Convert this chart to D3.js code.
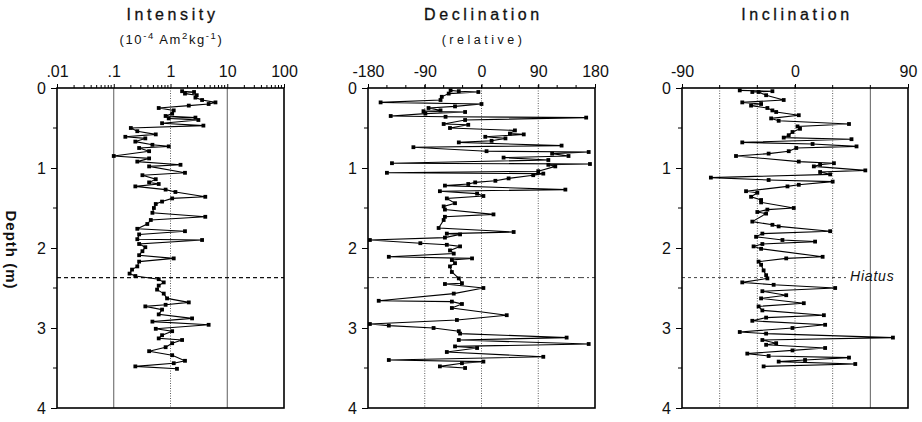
<!DOCTYPE html>
<html>
<head>
<meta charset="utf-8">
<script src="https://cdn.jsdelivr.net/npm/d3@7"></script>
<style>
  body { margin: 0; background: #fff; }
  text { font-family: "Liberation Sans", Arial, sans-serif; fill: #111; }
</style>
</head>
<body>
<div id="vis"></div>
<script>
var intensityDepth = [0.04,0.05,0.07,0.09,0.12,0.15,0.18,0.20,0.22,0.25,0.28,0.32,0.35,0.37,0.38,0.40,0.44,0.47,0.50,0.54,0.58,0.61,0.63,0.67,0.71,0.73,0.75,0.79,0.85,0.88,0.92,0.96,0.98,1.06,1.09,1.14,1.18,1.20,1.23,1.27,1.30,1.36,1.38,1.42,1.45,1.50,1.56,1.61,1.65,1.70,1.76,1.79,1.83,1.89,1.90,1.95,1.99,2.04,2.09,2.13,2.17,2.23,2.27,2.32,2.35,2.39,2.43,2.47,2.52,2.57,2.63,2.68,2.71,2.73,2.77,2.83,2.88,2.92,2.96,3.01,3.04,3.09,3.13,3.15,3.19,3.24,3.29,3.34,3.41,3.44,3.48,3.51];
var intensityValue = [1.6,2.6,1.8,2.9,2.75,3.6,6.2,4.7,2.1,0.62,1.14,1.07,0.82,2.75,0.93,3.1,0.71,3.8,0.20,0.26,0.55,0.16,0.36,0.24,0.48,0.93,0.28,0.42,0.10,0.42,0.26,1.5,0.42,1.8,0.32,0.55,0.42,0.62,0.24,0.82,1.22,4.1,1.07,0.71,0.55,0.51,0.48,4.1,0.45,0.39,0.26,1.8,0.28,0.26,3.6,0.28,0.36,0.32,0.28,1.14,0.28,0.26,0.21,0.19,0.24,0.62,0.76,0.62,0.58,0.76,0.87,2.1,0.82,0.36,0.71,0.62,2.4,0.48,4.7,0.55,1.07,0.71,0.62,1.6,1.07,0.82,0.42,1.07,1.8,1.14,0.24,1.3];

var declinationDepth = [0.03,0.04,0.05,0.07,0.11,0.15,0.18,0.20,0.23,0.25,0.28,0.29,0.30,0.32,0.35,0.36,0.37,0.40,0.45,0.46,0.50,0.53,0.57,0.58,0.61,0.63,0.66,0.68,0.72,0.74,0.79,0.80,0.82,0.85,0.87,0.90,0.94,0.95,0.96,0.98,1.04,1.06,1.07,1.09,1.13,1.16,1.18,1.20,1.22,1.27,1.29,1.32,1.35,1.38,1.44,1.48,1.52,1.58,1.61,1.65,1.75,1.80,1.82,1.83,1.87,1.90,1.94,1.96,1.98,2.03,2.07,2.11,2.13,2.15,2.19,2.23,2.30,2.38,2.44,2.45,2.50,2.57,2.66,2.67,2.70,2.75,2.84,2.90,2.95,2.97,3.00,3.04,3.07,3.12,3.15,3.20,3.23,3.25,3.30,3.36,3.40,3.42,3.44,3.48,3.50];
var declinationValue = [-49,-36,-5,-52,-63,-65,-160,0,-42,-84,-65,-92,-26,-89,-144,-57,166,-26,-60,-21,-50,53,45,67,6,38,16,-36,127,-108,8,170,112,138,35,106,-142,172,106,117,90,-150,98,82,43,22,-10,-21,-58,133,-66,-7,3,-55,-42,-60,-58,19,-58,-60,-68,51,-55,-34,-58,-177,-97,-55,-34,-50,-44,-147,-15,-47,-42,-50,-47,-36,-31,-58,3,-44,-163,-47,-31,-47,40,-39,-177,-147,-76,-36,-34,135,-36,170,-42,-7,-55,98,-147,3,-31,-66,-26];

var inclinationDepth = [0.03,0.04,0.05,0.05,0.09,0.15,0.18,0.20,0.22,0.25,0.28,0.30,0.34,0.38,0.41,0.45,0.48,0.51,0.55,0.59,0.62,0.64,0.68,0.70,0.73,0.75,0.79,0.82,0.85,0.92,0.94,0.96,0.98,1.03,1.05,1.08,1.12,1.15,1.17,1.21,1.23,1.29,1.31,1.36,1.40,1.43,1.50,1.52,1.55,1.57,1.67,1.71,1.73,1.79,1.82,1.86,1.90,1.92,1.95,1.98,2.01,2.11,2.13,2.17,2.21,2.28,2.34,2.38,2.43,2.46,2.50,2.54,2.59,2.63,2.69,2.73,2.78,2.84,2.87,2.91,2.96,3.00,3.05,3.07,3.12,3.15,3.19,3.21,3.25,3.28,3.32,3.35,3.37,3.40,3.42,3.45,3.48];
var inclinationValue = [-44,-18,-34,-29,-23,-9,-42,-27,-35,-22,-18,-15,3,-19,-13,43,2,4,-2,-5,-9,45,-42,14,49,1,-5,-21,-47,3,31,20,15,56,20,28,-67,-21,30,3,-6,-39,-30,-35,-27,-27,-1,-22,-30,-23,-34,-18,-13,28,-26,-31,-10,16,-26,-33,-27,22,-7,-29,-27,-25,-23,-22,-42,-17,32,-26,-7,-27,7,-29,-26,23,-23,-34,24,-2,-44,-23,78,-26,-15,-23,24,-2,-38,-21,43,8,-13,48,-25];

var depthTicks = [0, 1, 2, 3, 4];
var hiatusDepth = 2.37;

var svg = d3.select('#vis').append('svg')
    .attr('width', 922)
    .attr('height', 422);

var plotTop = 88, plotBottom = 408;
var yScale = d3.scaleLinear().domain([0, 4]).range([plotTop, plotBottom]);

var panels = [
    {
        title: 'Intensity', sub: 'intensity', left: 57, right: 284,
        scale: d3.scaleLog().domain([0.01, 100]),
        depth: intensityDepth, value: intensityValue,
        labels: [0.01, 0.1, 1, 10, 100],
        labelText: ['.01', '.1', '1', '10', '100'],
        minor: d3.range(-2, 2).flatMap(function(e) { return d3.range(2, 10).map(function(m) { return m * Math.pow(10, e); }); }),
        grid: [0.1, 1, 10], solid: [0.1, 10],
        hiatusEnd: 284, hiatusDash: '4,3'
    },
    {
        title: 'Declination', sub: 'relative', left: 368, right: 595,
        scale: d3.scaleLinear().domain([-180, 180]),
        depth: declinationDepth, value: declinationValue,
        labels: [-180, -90, 0, 90, 180],
        labelText: ['-180', '-90', '0', '90', '180'],
        minor: d3.range(-150, 180, 30),
        grid: [-90, 0, 90], solid: [],
        hiatusEnd: 595, hiatusDash: '6,3,2,3'
    },
    {
        title: 'Inclination', sub: null, left: 682, right: 908,
        scale: d3.scaleLinear().domain([-90, 90]),
        depth: inclinationDepth, value: inclinationValue,
        labels: [-90, 0, 90],
        labelText: ['-90', '0', '90'],
        minor: d3.range(-60, 90, 30),
        grid: [-60, -30, 0, 30, 60], solid: [60],
        hiatusEnd: 846, hiatusDash: '3,3'
    }
];

panels.forEach(function(p) {
    var x = p.scale.range([p.left, p.right]);
    var cx = (p.left + p.right) / 2;
    var g = svg.append('g');

    // titles
    g.append('text')
        .attr('x', cx + 2).attr('y', 20)
        .attr('text-anchor', 'middle')
        .style('font-size', '16px')
        .style('letter-spacing', '3.6px')
        .style('stroke', '#111')
        .style('stroke-width', 0.3)
        .text(p.title);

    if (p.sub === 'intensity') {
        var st = g.append('text')
            .attr('x', cx + 1).attr('y', 44)
            .attr('text-anchor', 'middle')
            .style('font-size', '13px')
            .style('letter-spacing', '1.6px');
        st.append('tspan').text('(10');
        st.append('tspan').attr('dy', -5).style('font-size', '9.5px').text('-4');
        st.append('tspan').attr('dy', 5).text('  Am');
        st.append('tspan').attr('dy', -5).style('font-size', '9.5px').text('2');
        st.append('tspan').attr('dy', 5).text('kg');
        st.append('tspan').attr('dy', -5).style('font-size', '9.5px').text('-1');
        st.append('tspan').attr('dy', 5).text(')');
    } else if (p.sub) {
        g.append('text')
            .attr('x', cx + 2).attr('y', 44)
            .attr('text-anchor', 'middle')
            .style('font-size', '12.5px')
            .style('letter-spacing', '3.5px')
            .text('(' + p.sub + ')');
    }

    // grid lines
    g.selectAll('.grid').data(p.grid).enter().append('line')
        .attr('x1', function(d) { return x(d); })
        .attr('x2', function(d) { return x(d); })
        .attr('y1', plotTop).attr('y2', plotBottom)
        .attr('stroke', '#333')
        .attr('stroke-width', 0.8)
        .attr('stroke-dasharray', function(d) { return p.solid.indexOf(d) >= 0 ? null : '1,1.5'; });

    // hiatus
    g.append('line')
        .attr('x1', p.left).attr('x2', p.hiatusEnd)
        .attr('y1', yScale(hiatusDepth)).attr('y2', yScale(hiatusDepth))
        .attr('stroke', '#111')
        .attr('stroke-width', p.sub === 'intensity' ? 1.1 : 0.8)
        .attr('stroke-dasharray', p.hiatusDash);

    // frame
    g.append('rect')
        .attr('x', p.left).attr('y', plotTop)
        .attr('width', p.right - p.left).attr('height', plotBottom - plotTop)
        .attr('fill', 'none')
        .attr('stroke', '#000')
        .attr('stroke-width', 1.6);

    // top axis
    var xAxis = d3.axisTop(x)
        .tickValues(p.labels)
        .tickFormat(function(d, i) { return p.labelText[i]; })
        .tickSize(4)
        .tickPadding(7);
    var ax = g.append('g').attr('transform', 'translate(0,' + plotTop + ')').call(xAxis);
    ax.select('.domain').remove();
    ax.selectAll('text').style('font-size', '16px').attr('font-family', null);
    g.selectAll('.minor').data(p.minor).enter().append('line')
        .attr('x1', function(d) { return x(d); })
        .attr('x2', function(d) { return x(d); })
        .attr('y1', plotTop).attr('y2', plotTop - 3)
        .attr('stroke', '#000');

    // depth axis
    var yAxis = d3.axisLeft(yScale)
        .tickValues(depthTicks)
        .tickFormat(d3.format('d'))
        .tickSize(6)
        .tickPadding(5);
    var ay = g.append('g').attr('transform', 'translate(' + p.left + ',0)').call(yAxis);
    ay.select('.domain').remove();
    ay.selectAll('text').style('font-size', '16px').attr('font-family', null);
    g.selectAll('.yminor').data([0.5, 1.5, 2.5, 3.5]).enter().append('line')
        .attr('x1', p.left).attr('x2', p.left - 4)
        .attr('y1', function(d) { return yScale(d); })
        .attr('y2', function(d) { return yScale(d); })
        .attr('stroke', '#000');

    // series
    var pts = p.depth.map(function(d, i) { return [p.value[i], d]; });
    var line = d3.line()
        .x(function(d) { return x(d[0]); })
        .y(function(d) { return yScale(d[1]); });
    g.append('path').datum(pts)
        .attr('d', line)
        .attr('fill', 'none')
        .attr('stroke', '#000')
        .attr('stroke-width', 1.1);
    g.selectAll('.pt').data(pts).enter().append('rect')
        .attr('x', function(d) { return x(d[0]) - 1.9; })
        .attr('y', function(d) { return yScale(d[1]) - 1.9; })
        .attr('width', 3.8).attr('height', 3.8)
        .attr('fill', '#000');
});

svg.append('text')
    .attr('transform', 'translate(6,250)rotate(90)')
    .attr('text-anchor', 'middle')
    .style('font-size', '15px')
    .style('font-weight', 'bold')
    .style('letter-spacing', '1px')
    .text('Depth (m)');

svg.append('text')
    .attr('x', 850).attr('y', 281)
    .style('font-size', '14px')
    .style('font-style', 'italic')
    .style('letter-spacing', '0.8px')
    .text('Hiatus');
</script>
</body>
</html>
